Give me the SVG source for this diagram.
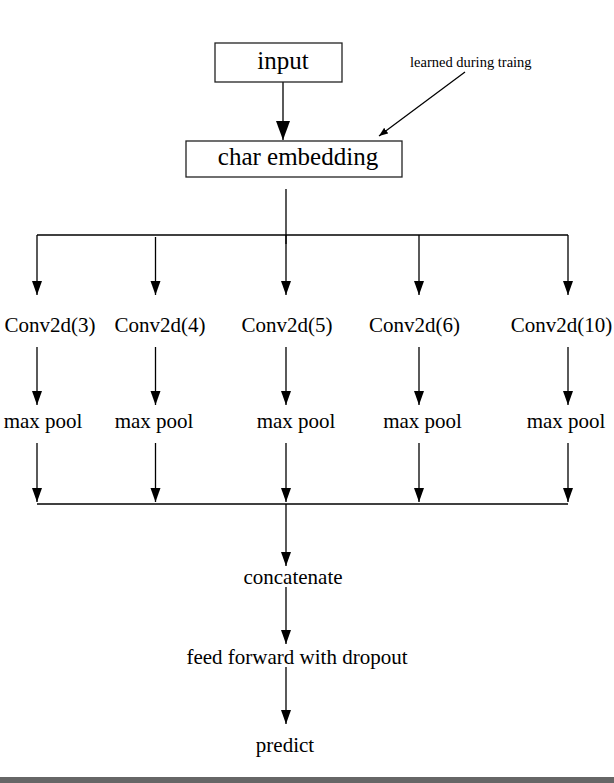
<svg xmlns="http://www.w3.org/2000/svg" width="614" height="783" viewBox="0 0 614 783">
<style>
text{font-family:"Liberation Serif","Times New Roman",serif;fill:#000}
.lbl{font-size:21px;text-anchor:middle}
.box{fill:#fff;stroke:#222;stroke-width:1.3}
.c{stroke:#000;stroke-width:1.3;fill:none}
.d{marker-end:url(#ah)}
</style>
<defs>
<marker id="ah" markerUnits="userSpaceOnUse" markerWidth="12" markerHeight="15" refX="6" refY="14" orient="0" viewBox="0 0 12 15">
<path d="M1,0 L11,0 L6,14 Z" fill="#000"/>
</marker>
<marker id="ahb" markerUnits="userSpaceOnUse" markerWidth="16" markerHeight="20" refX="8" refY="19" orient="0" viewBox="0 0 16 20">
<path d="M1,0 L15,0 L8,19 Z" fill="#000"/>
</marker>
<marker id="ahs" markerUnits="userSpaceOnUse" markerWidth="10" markerHeight="8" refX="9" refY="4" orient="auto" viewBox="0 0 10 8">
<path d="M0,0.5 L9,4 L0,7.5 Z" fill="#000"/>
</marker>
</defs>
<rect width="614" height="783" fill="#fff"/>
<g id="connectors">
<line class="c" x1="283" y1="82" x2="283" y2="140" stroke-width="2" marker-end="url(#ahb)"/>
<line class="c" x1="465" y1="72" x2="379" y2="136" stroke-width="0.9" marker-end="url(#ahs)"/>
<line class="c" x1="286" y1="189" x2="286" y2="244"/>
<line class="c" x1="37" y1="235" x2="568" y2="235" stroke-width="1.5"/>
<line class="c d" x1="37" y1="235" x2="37" y2="295"/>
<line class="c d" x1="155.5" y1="237" x2="155.5" y2="295"/>
<line class="c d" x1="286" y1="235" x2="286" y2="295"/>
<line class="c d" x1="419" y1="235" x2="419" y2="295"/>
<line class="c d" x1="568" y1="235" x2="568" y2="295"/>
<line class="c d" x1="37" y1="347" x2="37" y2="405"/>
<line class="c d" x1="155.5" y1="347" x2="155.5" y2="405"/>
<line class="c d" x1="286" y1="347" x2="286" y2="405"/>
<line class="c d" x1="419" y1="347" x2="419" y2="405"/>
<line class="c d" x1="568" y1="347" x2="568" y2="405"/>
<line class="c d" x1="37" y1="443" x2="37" y2="502"/>
<line class="c d" x1="155.5" y1="443" x2="155.5" y2="502"/>
<line class="c d" x1="286" y1="443" x2="286" y2="502"/>
<line class="c d" x1="419" y1="443" x2="419" y2="502"/>
<line class="c d" x1="568" y1="443" x2="568" y2="502"/>
<line class="c" x1="37" y1="504" x2="568" y2="504" stroke-width="1.5"/>
<line class="c d" x1="286" y1="504" x2="286" y2="566"/>
<line class="c d" x1="286" y1="587" x2="286" y2="644"/>
<line class="c d" x1="286" y1="667" x2="286" y2="724"/>
</g>
<g id="input">
<rect class="box" x="215" y="43" width="127" height="39"/>
<text x="283" y="69" font-size="25" text-anchor="middle">input</text>
</g>
<g id="char-embedding">
<rect class="box" x="186" y="141" width="216" height="36"/>
<text x="298" y="165" font-size="25" text-anchor="middle">char embedding</text>
</g>
<g id="note">
<text x="410" y="67" font-size="14.5">learned during traing</text>
</g>
<g id="conv3"><text class="lbl" x="50" y="332">Conv2d(3)</text></g>
<g id="conv4"><text class="lbl" x="160" y="332">Conv2d(4)</text></g>
<g id="conv5"><text class="lbl" x="287" y="332">Conv2d(5)</text></g>
<g id="conv6"><text class="lbl" x="414.5" y="332">Conv2d(6)</text></g>
<g id="conv10"><text class="lbl" x="561.5" y="332">Conv2d(10)</text></g>
<g id="pool3"><text class="lbl" x="43" y="428">max pool</text></g>
<g id="pool4"><text class="lbl" x="154" y="428">max pool</text></g>
<g id="pool5"><text class="lbl" x="296" y="428">max pool</text></g>
<g id="pool6"><text class="lbl" x="422.5" y="428">max pool</text></g>
<g id="pool10"><text class="lbl" x="566" y="428">max pool</text></g>
<g id="concatenate"><text class="lbl" x="293" y="584">concatenate</text></g>
<g id="feedforward"><text class="lbl" x="297" y="664">feed forward with dropout</text></g>
<g id="predict"><text class="lbl" x="285" y="752">predict</text></g>
<rect x="0" y="777" width="614" height="6" fill="#666"/>
</svg>
